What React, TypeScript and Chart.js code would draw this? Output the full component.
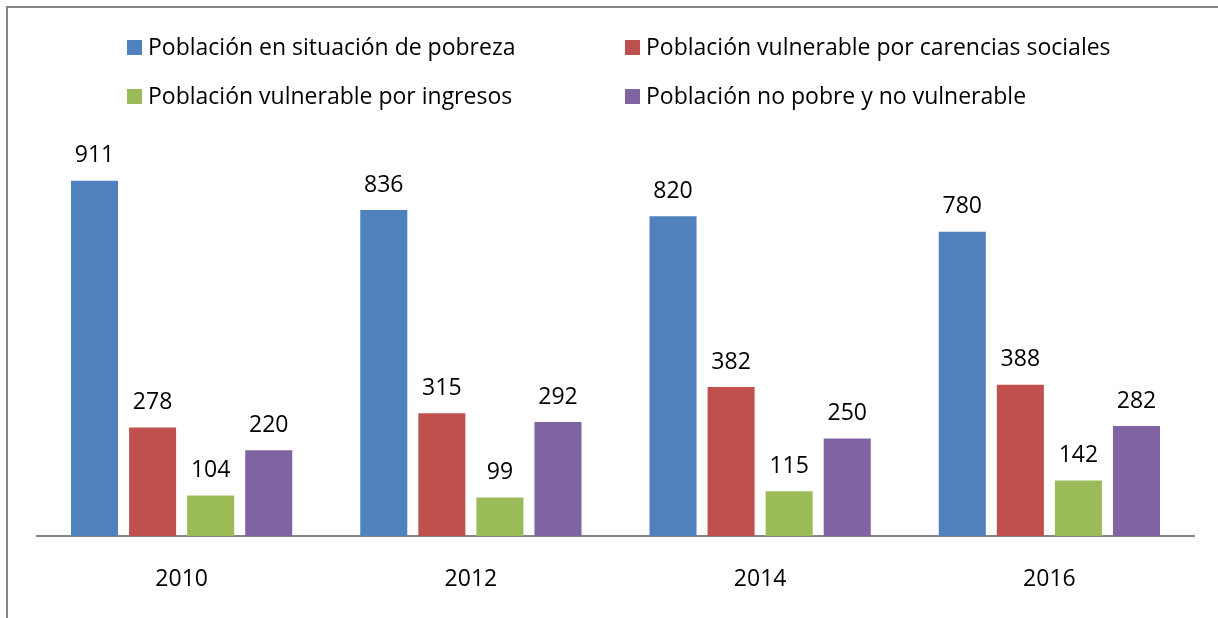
import React, { useEffect, useRef } from "react";
import { Chart, registerables } from "chart.js";

Chart.register(...registerables);

const years = ["2010", "2012", "2014", "2016"];
const seriesLabels = [
  "Población en situación de pobreza",
  "Población vulnerable por carencias sociales",
  "Población vulnerable por ingresos",
  "Población no pobre y no vulnerable",
];
const pobreza = [911, 836, 820, 780];
const carencias = [278, 315, 382, 388];
const ingresos = [104, 99, 115, 142];
const noPobre = [220, 292, 250, 282];
const colors = ["#4F81BD", "#C0504D", "#9BBB59", "#8064A2"];

const FONT = "'Open Sans', Lato, sans-serif";

const framePlugin = {
  id: "frame",
  beforeDraw(chart: any) {
    const ctx = chart.ctx;
    ctx.save();
    ctx.fillStyle = "#ffffff";
    ctx.fillRect(0, 0, chart.width, chart.height);
    ctx.strokeStyle = "#868686";
    ctx.lineWidth = 2;
    ctx.beginPath();
    ctx.moveTo(chart.width, 7);
    ctx.lineTo(7, 7);
    ctx.lineTo(7, chart.height);
    ctx.stroke();
    ctx.restore();
  },
};

const legendPlugin = {
  id: "customLegend",
  afterDraw(chart: any) {
    const ctx = chart.ctx;
    const cols = [127, 625];
    const rows = [48, 97];
    ctx.save();
    ctx.font = `23px ${FONT}`;
    ctx.textBaseline = "middle";
    ctx.textAlign = "left";
    chart.data.datasets.forEach((ds: any, i: number) => {
      const x = cols[i % 2];
      const y = rows[Math.floor(i / 2)];
      ctx.fillStyle = ds.backgroundColor;
      ctx.fillRect(x, y - 8, 15, 15);
      ctx.fillStyle = "#000000";
      ctx.fillText(ds.label, x + 21, y);
    });
    ctx.restore();
  },
};

const valueLabelPlugin = {
  id: "valueLabels",
  afterDatasetsDraw(chart: any) {
    const ctx = chart.ctx;
    ctx.save();
    ctx.font = `23px ${FONT}`;
    ctx.fillStyle = "#000000";
    ctx.textAlign = "center";
    ctx.textBaseline = "middle";
    chart.data.datasets.forEach((ds: any, i: number) => {
      const meta = chart.getDatasetMeta(i);
      meta.data.forEach((el: any, j: number) => {
        ctx.fillText(String(ds.data[j]), el.x, el.y - 25);
      });
    });
    ctx.restore();
  },
};

export default function App() {
  const ref = useRef<HTMLCanvasElement>(null);
  useEffect(() => {
    document.body.style.margin = "0";
    const seriesData = [pobreza, carencias, ingresos, noPobre];
    const chart = new Chart(ref.current!, {
      type: "bar",
      data: {
        labels: years,
        datasets: seriesData.map((d, i) => ({
          label: seriesLabels[i],
          data: d,
          backgroundColor: colors[i],
          borderWidth: 0,
          barPercentage: 0.81,
          categoryPercentage: 0.803,
        })),
      },
      options: {
        animation: false,
        responsive: false,
        maintainAspectRatio: false,
        layout: { padding: { left: 37, right: 24, top: 146, bottom: 24 } },
        plugins: {
          legend: { display: false },
          title: { display: false },
          tooltip: { enabled: false },
        },
        scales: {
          x: {
            grid: { display: false, drawTicks: false },
            border: { display: true, color: "#868686", width: 2 },
            ticks: { color: "#000000", font: { family: FONT, size: 23 }, padding: 30 },
            afterFit: (scale: any) => {
              scale.height = 58;
            },
          },
          y: {
            display: false,
            min: 0,
            max: 1000,
          },
        },
      },
      plugins: [framePlugin, legendPlugin, valueLabelPlugin],
    });
    return () => chart.destroy();
  }, []);
  return (
    <div style={{ width: 1218, height: 618 }}>
      <canvas ref={ref} width={1218} height={618} style={{ display: "block" }} />
    </div>
  );
}
